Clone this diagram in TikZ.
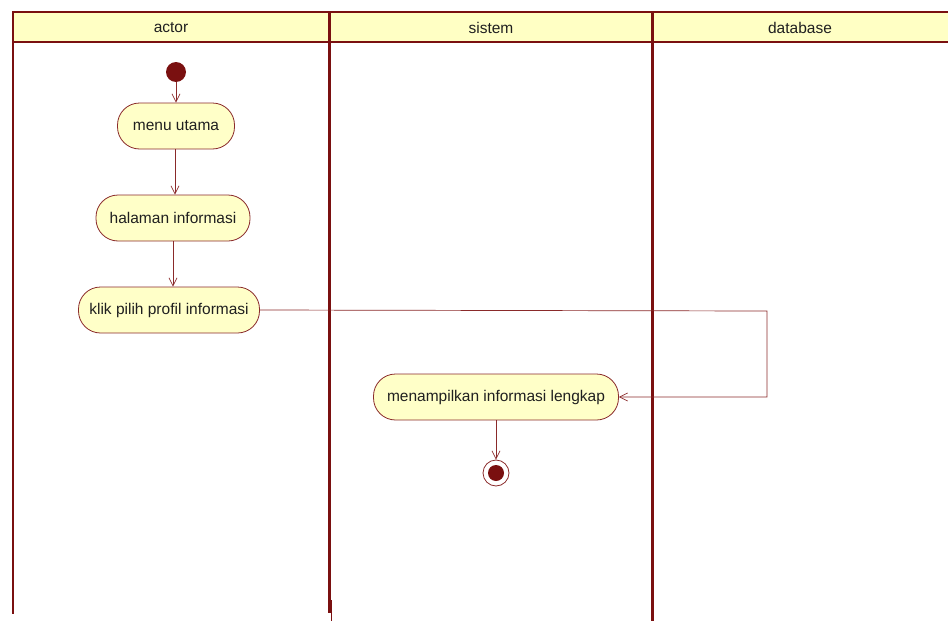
\documentclass[tikz,border=0pt]{standalone}
\usepackage{fontspec}
\setmainfont{Liberation Sans}
\usetikzlibrary{arrows.meta}
\definecolor{lanered}{HTML}{7A1010}
\definecolor{headfill}{HTML}{FFFFC4}
\definecolor{actfill}{HTML}{FFFFC8}
\definecolor{flowred}{HTML}{8A2A2A}
\definecolor{inkgray}{HTML}{202020}
\begin{document}
\begin{tikzpicture}[x=1pt,y=-1pt,
  action/.style={draw=flowred,fill=actfill,rounded corners=22pt,line width=0.8pt,
    minimum height=46pt,inner xsep=6pt,text=inkgray,
    font=\fontsize{15.5}{18}\selectfont},
  lane/.style={draw=lanered},
  flow/.style={draw=flowred,line width=0.7pt,-{Straight Barb[length=8pt,width=8pt]}},
  headtext/.style={text=inkgray,font=\fontsize{15.5}{18}\selectfont}]
\useasboundingbox (0,0) rectangle (948,621);
% swimlane headers
\fill[headfill] (13,12) rectangle (948,42);
\draw[lane,line width=2pt] (13,12) -- (948,12);
\draw[lane,line width=2pt] (13,42) -- (948,42);
\node[headtext] (hactor) at (171,28) {actor};
\node[headtext] (hsistem) at (491,28) {sistem};
\node[headtext] (hdb) at (800,28) {database};
% lane separators
\draw[lane,line width=1.5pt] (13,11) -- (13,614);
\draw[lane,line width=3pt] (329,11) -- (329,613);
\draw[lane,line width=1pt] (331,600) -- (331,621);
\draw[lane,line width=3pt] (652,11) -- (652,621);
% start and end
\node[circle,fill=lanered,minimum size=20pt,inner sep=0pt] (start) at (176,72) {};
\node[circle,draw=flowred,fill=white,line width=0.8pt,minimum size=26pt,inner sep=0pt] (end) at (496,473) {};
\node[circle,fill=lanered,minimum size=16pt,inner sep=0pt] (endcore) at (496,473) {};
% actions
\node[action,minimum width=117pt] (menu) at (176,126) {menu utama};
\node[action,minimum width=154pt] (hal) at (173,218) {halaman informasi};
\node[action,minimum width=181pt] (klik) at (169,310) {klik pilih profil informasi};
\node[action,minimum width=245pt] (tampil) at (496,397) {menampilkan informasi lengkap};
% flows
\draw[flow] (start.south) -- (start.south |- menu.north);
\draw[flow] ([xshift=-1pt]menu.south) -- ([xshift=-1pt]menu.south |- hal.north);
\draw[flow] (hal.south) -- (hal.south |- klik.north);
\coordinate (turnA) at (767,311);
\coordinate (turnB) at (767,397);
\draw[flow] (klik.east) -- (turnA) -- (turnB) -- (tampil.east);
\draw[flow] (tampil.south) -- (end.north);
\end{tikzpicture}
\end{document}
